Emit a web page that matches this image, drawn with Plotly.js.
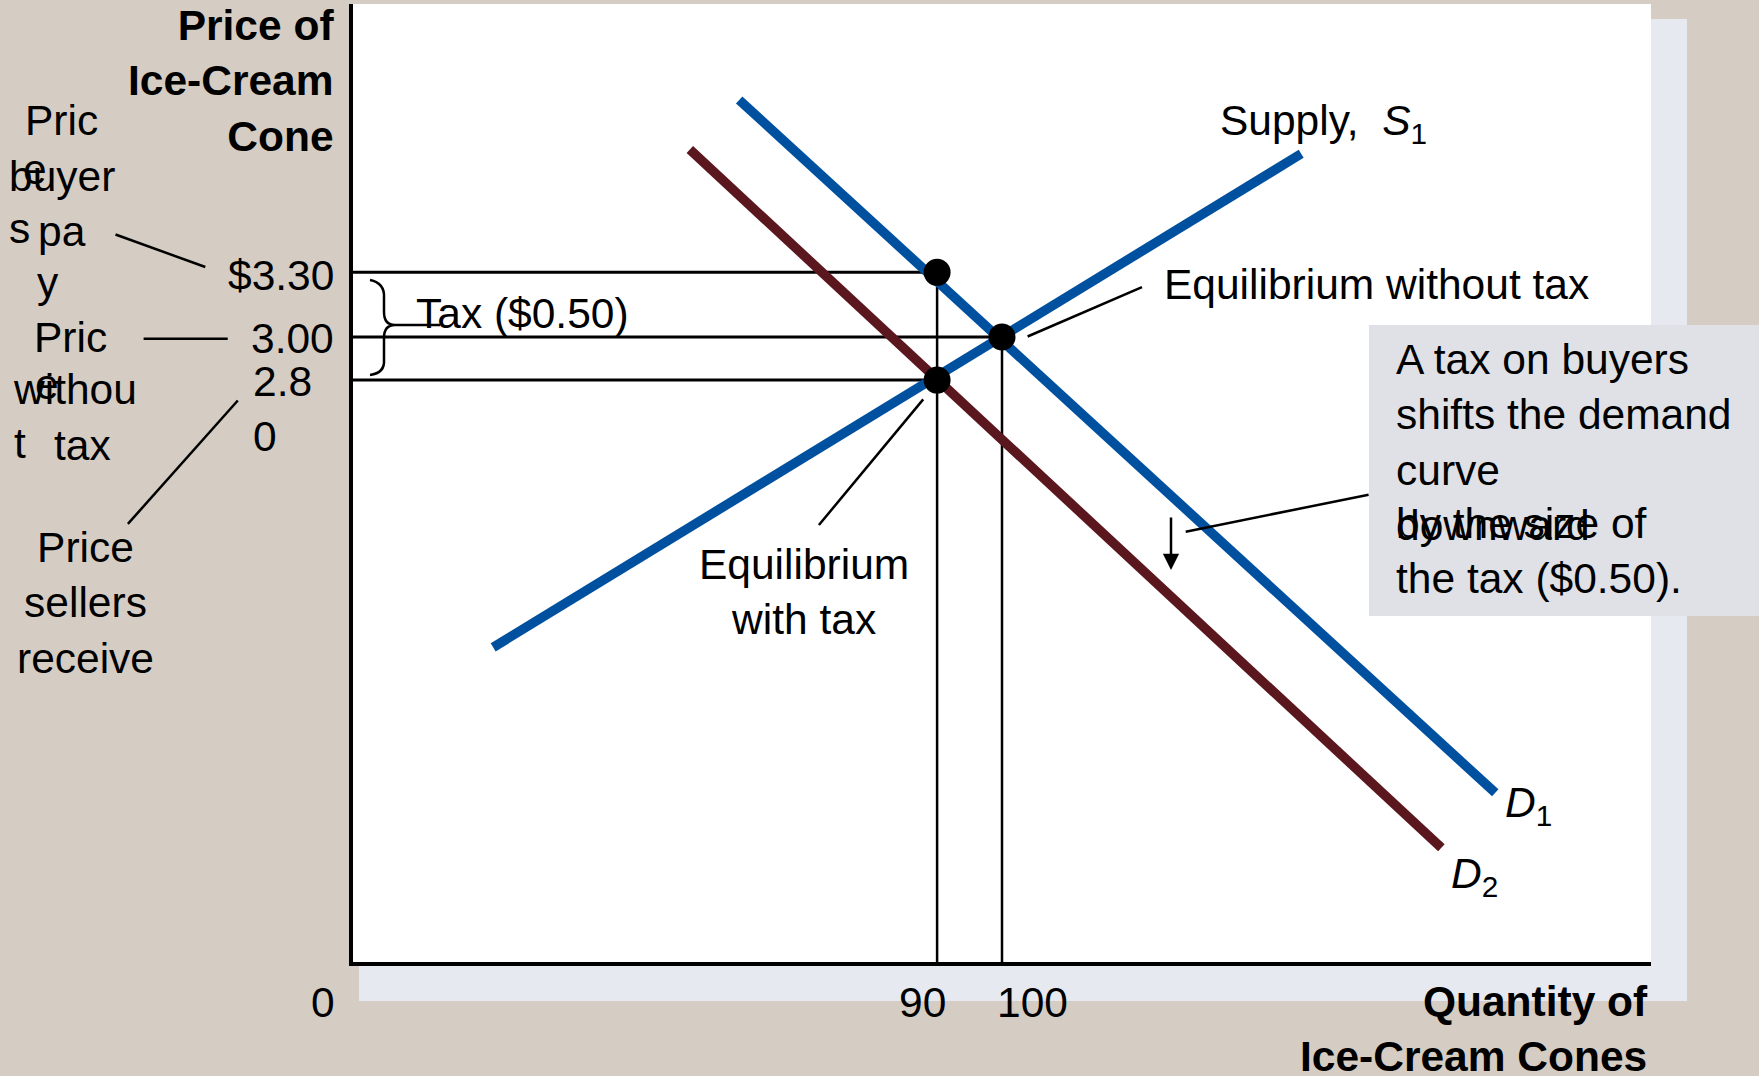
<!DOCTYPE html>
<html>
<head>
<meta charset="utf-8">
<script src="https://cdn.plot.ly/plotly-3.0.1.min.js"></script>
<style>
  html, body { margin: 0; padding: 0; background: #D5CDC3; }
  #chart { width: 1759px; height: 1076px; }
</style>
</head>
<body>
<div id="chart"></div>
<script>
// ---------- data ----------
const supplyQty   = [21.6, 146.1];
const supplyPrice = [1.56, 3.85];
const demand1Qty   = [59.5, 176.0];
const demand1Price = [4.10, 0.885];
const demand2Qty   = [51.9, 167.7];
const demand2Price = [3.87, 0.63];

const eqQtyNoTax = 100;
const eqQtyTax = 90;
const priceNoTax = 3.00;
const priceBuyers = 3.30;
const priceSellers = 2.80;

const qtyRange = [0, 200];
const priceRange = [0.1, 4.545];

const priceTickText = ['$3.30', '3.00', '2.8<br>0'];
const qtyTickText = ['0', '90', '100'];

// ---------- layout helpers (pixel -> paper) ----------
const W = 1759, H = 1076;
const L = 353, R = 108, T = 4, B = 114;
const PW = W - L - R, PH = H - T - B;
const px = x => (x - L) / PW;
const py = y => (H - B - y) / PH;

const FONT = 'Liberation Sans, Arial, sans-serif';
const FS = 42.5;
const black = '#000000';
const blue = '#0050A0';
const darkRed = '#5A171E';

function seg(x0, y0, x1, y1, w) {
  return { type: 'line', xref: 'paper', yref: 'paper',
    x0: px(x0), y0: py(y0), x1: px(x1), y1: py(y1),
    line: { color: black, width: w || 2.5 }, layer: 'above' };
}
function txt(text, x, y, opts) {
  return Object.assign({
    text: text, xref: 'paper', yref: 'paper', x: px(x), y: py(y),
    xanchor: 'center', yanchor: 'middle', showarrow: false,
    font: { family: FONT, size: FS, color: black }
  }, opts || {});
}

// ---------- traces ----------
const lineTrace = (x, y, color, width) => ({
  type: 'scatter', mode: 'lines', x: x, y: y,
  line: { color: color, width: width }, hoverinfo: 'skip', showlegend: false
});

const traces = [
  lineTrace([0, eqQtyTax], [priceBuyers, priceBuyers], black, 3),
  lineTrace([0, eqQtyNoTax], [priceNoTax, priceNoTax], black, 3),
  lineTrace([0, eqQtyTax], [priceSellers, priceSellers], black, 3),
  lineTrace([eqQtyTax, eqQtyTax], [priceBuyers, priceRange[0]], black, 2.5),
  lineTrace([eqQtyNoTax, eqQtyNoTax], [priceNoTax, priceRange[0]], black, 2.5),
  lineTrace(demand2Qty, demand2Price, darkRed, 9.5),
  lineTrace(demand1Qty, demand1Price, blue, 9.5),
  lineTrace(supplyQty, supplyPrice, blue, 9.5),
  {
    type: 'scatter', mode: 'markers',
    x: [eqQtyTax, eqQtyNoTax, eqQtyTax],
    y: [priceBuyers, priceNoTax, priceSellers],
    marker: { color: black, size: 27 }, hoverinfo: 'skip', showlegend: false
  }
];

// ---------- brace path (pixel coords -> paper) ----------
function P(x, y) { return px(x).toFixed(5) + ',' + py(y).toFixed(5); }
const bracePath =
  'M ' + P(370, 280) + ' Q ' + P(385, 283) + ' ' + P(384, 298) +
  ' L ' + P(384, 312) + ' Q ' + P(384, 325) + ' ' + P(395, 325) +
  ' L ' + P(440, 325) +
  ' M ' + P(395, 325) + ' Q ' + P(384, 325) + ' ' + P(384, 338) +
  ' L ' + P(384, 360) + ' Q ' + P(385, 373) + ' ' + P(370, 375);

const shapes = [
  { type: 'rect', xref: 'paper', yref: 'paper', layer: 'below',
    x0: px(359), x1: px(1687), y0: py(1001), y1: py(19),
    fillcolor: '#E6E9F0', line: { width: 0 } },
  { type: 'rect', xref: 'paper', yref: 'paper', layer: 'below',
    x0: 0, x1: 1, y0: 0, y1: 1, fillcolor: '#FFFFFF', line: { width: 0 } },
  { type: 'rect', xref: 'paper', yref: 'paper', layer: 'below',
    x0: px(1369), x1: px(1762), y0: py(616), y1: py(325),
    fillcolor: '#DFE1E6', line: { width: 0 } },
  { type: 'path', xref: 'paper', yref: 'paper', layer: 'above',
    path: bracePath, line: { color: black, width: 2.5 } },
  seg(115.5, 234.5, 205.3, 267),
  seg(143.6, 338.8, 227.7, 338.8),
  seg(127.9, 523.9, 237.8, 400.5),
  seg(1027.6, 336.5, 1142, 287.2),
  seg(818.9, 525, 923.2, 399.4),
  seg(1185.7, 531.7, 1368.6, 494.7)
];

const annotations = [
  txt('<b>Price of<br>Ice-Cream<br>Cone</b>', 336, 81, { xanchor: 'right', align: 'right' }),
  txt('<b>Quantity of<br>Ice-Cream Cones</b>', 1650, 1029, { xanchor: 'right', align: 'right' }),
  txt(priceTickText[0], 336, 276, { xanchor: 'right' }),
  txt(priceTickText[1], 336, 338, { xanchor: 'right' }),
  txt(priceTickText[2], 251, 409, { xanchor: 'left', align: 'left' }),
  txt(qtyTickText[0], 323, 1002),
  txt(qtyTickText[1], 922, 1002),
  txt(qtyTickText[2], 1032, 1002),
  txt('Pric', 61, 120),
  txt('buyer', 62, 176),
  txt('e', 35, 170),
  txt('s', 19, 228),
  txt('pa', 62, 231),
  txt('y', 48, 282),
  txt('Pric', 70, 337),
  txt('withou', 75, 389),
  txt('e', 47, 384),
  txt('t', 20, 443),
  txt('tax', 82, 445),
  txt('Price<br>sellers<br>receive', 85, 603),
  txt('Tax ($0.50)', 414, 313, { xanchor: 'left' }),
  txt('Supply,  <i>S</i><sub>1</sub>', 1218, 123, { xanchor: 'left' }),
  txt('Equilibrium without tax', 1162, 284, { xanchor: 'left' }),
  txt('Equilibrium<br>with tax', 804, 592),
  txt('<i>D</i><sub>1</sub>', 1503, 805, { xanchor: 'left' }),
  txt('<i>D</i><sub>2</sub>', 1449, 876, { xanchor: 'left' }),
  txt('A tax on buyers<br>shifts the demand<br>curve<br>downward', 1394, 442, { xanchor: 'left', align: 'left' }),
  txt('by the size of<br>the tax ($0.50).', 1394, 551, { xanchor: 'left', align: 'left' }),
  { xref: 'paper', yref: 'paper', x: px(1171), y: py(570), ax: 0, ay: -54,
    axref: 'pixel', ayref: 'pixel', text: '', showarrow: true,
    arrowhead: 2, arrowsize: 1.3, arrowwidth: 2.5, arrowcolor: black }
];

const layout = {
  width: W, height: H,
  margin: { l: L, r: R, t: T, b: B, pad: 0 },
  paper_bgcolor: '#D5CDC3',
  plot_bgcolor: 'rgba(0,0,0,0)',
  showlegend: false,
  xaxis: { range: qtyRange, showline: true, linecolor: black, linewidth: 4,
    showgrid: false, zeroline: false, ticks: '', showticklabels: false, fixedrange: true },
  yaxis: { range: priceRange, showline: true, linecolor: black, linewidth: 4,
    showgrid: false, zeroline: false, ticks: '', showticklabels: false, fixedrange: true },
  shapes: shapes,
  annotations: annotations,
  font: { family: FONT, size: FS, color: black }
};

Plotly.newPlot('chart', traces, layout, { staticPlot: true, displayModeBar: false });
</script>
</body>
</html>
